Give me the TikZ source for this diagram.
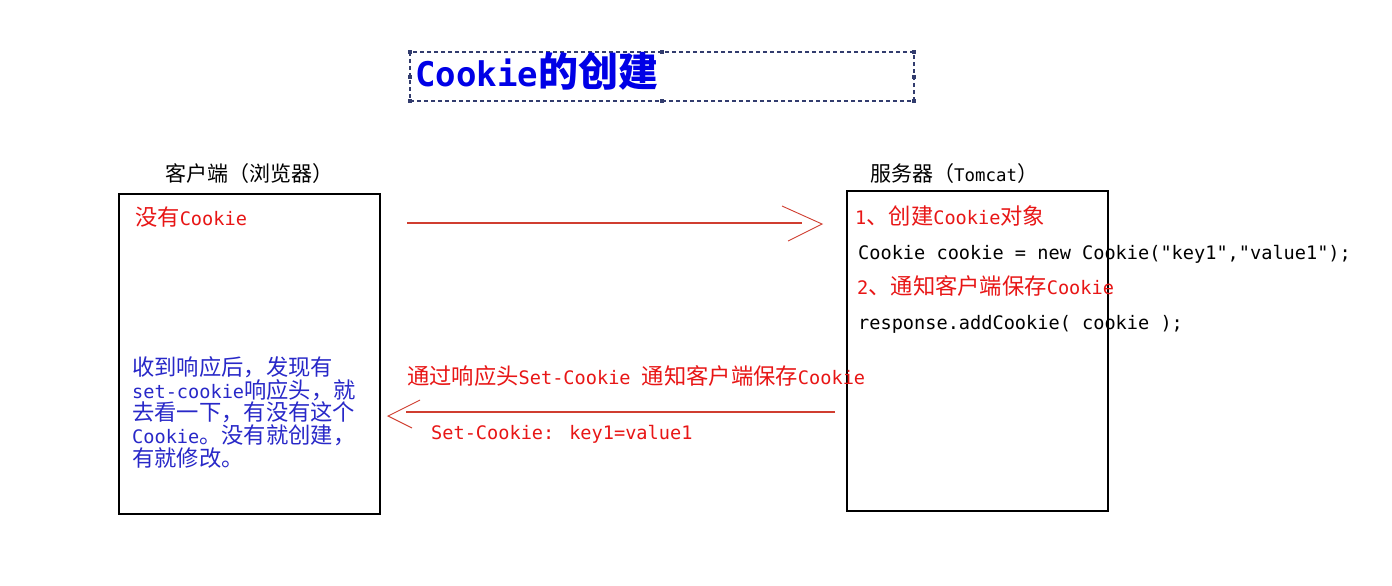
\documentclass[tikz,border=0pt]{standalone}
\usepackage{fontspec}
\newfontfamily\cjk{Noto Sans CJK SC}
\newfontfamily\mono{DejaVu Sans Mono}
\newcommand\zh[1]{{\cjk\fontsize{22.3}{22.3}\selectfont #1}}
\newcommand\zhH[1]{{\cjk\fontsize{21}{21}\selectfont #1}}
\newcommand\zhT[1]{{\cjk\bfseries\fontsize{40}{40}\selectfont #1}}
\definecolor{cRed}{RGB}{232,22,22}
\definecolor{cArrow}{RGB}{208,62,48}
\definecolor{cBlue}{RGB}{40,40,200}
\definecolor{cTitle}{RGB}{0,0,230}
\definecolor{cDash}{RGB}{50,60,110}
\tikzset{
  txt/.style={anchor=base west, inner sep=0pt, font=\mono\fontsize{18.6}{22}\selectfont},
  redtxt/.style={txt, text=cRed},
  bluetxt/.style={txt, text=cBlue},
  hdr/.style={anchor=base west, inner sep=0pt, font=\mono\fontsize{17.4}{21}\selectfont},
  panel/.style={draw=black, line width=1.5pt},
  shaft/.style={draw=cArrow, line width=1.4pt},
  barb/.style={draw=cArrow, line width=0.9pt},
  handle/.style={fill=cDash, minimum size=4pt, inner sep=0pt, draw=none}
}
\begin{document}
\begin{tikzpicture}[x=1pt,y=-1pt]
\useasboundingbox[fill=white] (0,0) rectangle (1392,586);

% title
\draw[cDash, line width=1.2pt, dash pattern=on 4pt off 3pt] (410,52) rectangle (914,101);
\foreach \p/\n in {{410,52}/h1,{662,52}/h2,{914,52}/h3,{410,101}/h4,{662,101}/h5,{914,101}/h6,{410,77}/h7,{914,77}/h8}
  \node[handle] (\n) at (\p) {};
\node[anchor=base west, inner sep=0pt, text=cTitle, font=\mono\bfseries\fontsize{34}{40}\selectfont] (title) at (415,87) {Cookie\zhT{的创建}};

% headers
\node[hdr] (hc) at (165,181) {\zhH{客户端（浏览器）}};
\node[hdr] (hs) at (870,181) {\zhH{服务器（}Tomcat\zhH{）}};

% panels
\node[panel, anchor=north west, minimum width=261pt, minimum height=320pt, inner sep=0pt] (client) at (118,193) {};
\node[panel, anchor=north west, minimum width=261pt, minimum height=320pt, inner sep=0pt] (server) at (846,190) {};

% client text
\node[redtxt] (nocookie) at (135,225) {\zh{没有}Cookie};
\node[bluetxt] (b1) at (132,375) {\zh{收到响应后，发现有}};
\node[bluetxt] (b2) at (132,398) {set-cookie\zh{响应头，就}};
\node[bluetxt] (b3) at (132,420) {\zh{去看一下，有没有这个}};
\node[bluetxt] (b4) at (132,443) {Cookie\zh{。没有就创建，}};
\node[bluetxt] (b5) at (132,466) {\zh{有就修改。}};

% server text
\node[redtxt] (s1) at (855,224) {1\zh{、创建}Cookie\zh{对象}};
\node[txt] (s2) at (858,259) {Cookie cookie = new Cookie("key1","value1");};
\node[redtxt] (s3) at (857,294) {2\zh{、通知客户端保存}Cookie};
\node[txt] (s4) at (858,329) {response.addCookie( cookie );};

% request arrow
\coordinate (r1s) at (407,223);
\coordinate (r1e) at (802,223);
\coordinate (r1t) at (822,224);
\coordinate (r1a) at (782,206);
\coordinate (r1b) at (788,241);
\draw[shaft] (r1s) -- (r1e);
\draw[barb] (r1a) -- (r1t) -- (r1b);

% response arrow
\coordinate (r2s) at (835,412);
\coordinate (r2e) at (406,412);
\coordinate (r2t) at (388,416);
\coordinate (r2a) at (420,400);
\coordinate (r2b) at (412,428);
\draw[shaft] (r2s) -- (r2e);
\draw[barb] (r2a) -- (r2t) -- (r2b);

\node[redtxt] (l1) at (407,384) {\zh{通过响应头}Set-Cookie \zh{通知客户端保存}Cookie};
\node[redtxt] (l2) at (431,439) {Set-Cookie: key1=value1};
\end{tikzpicture}
\end{document}
